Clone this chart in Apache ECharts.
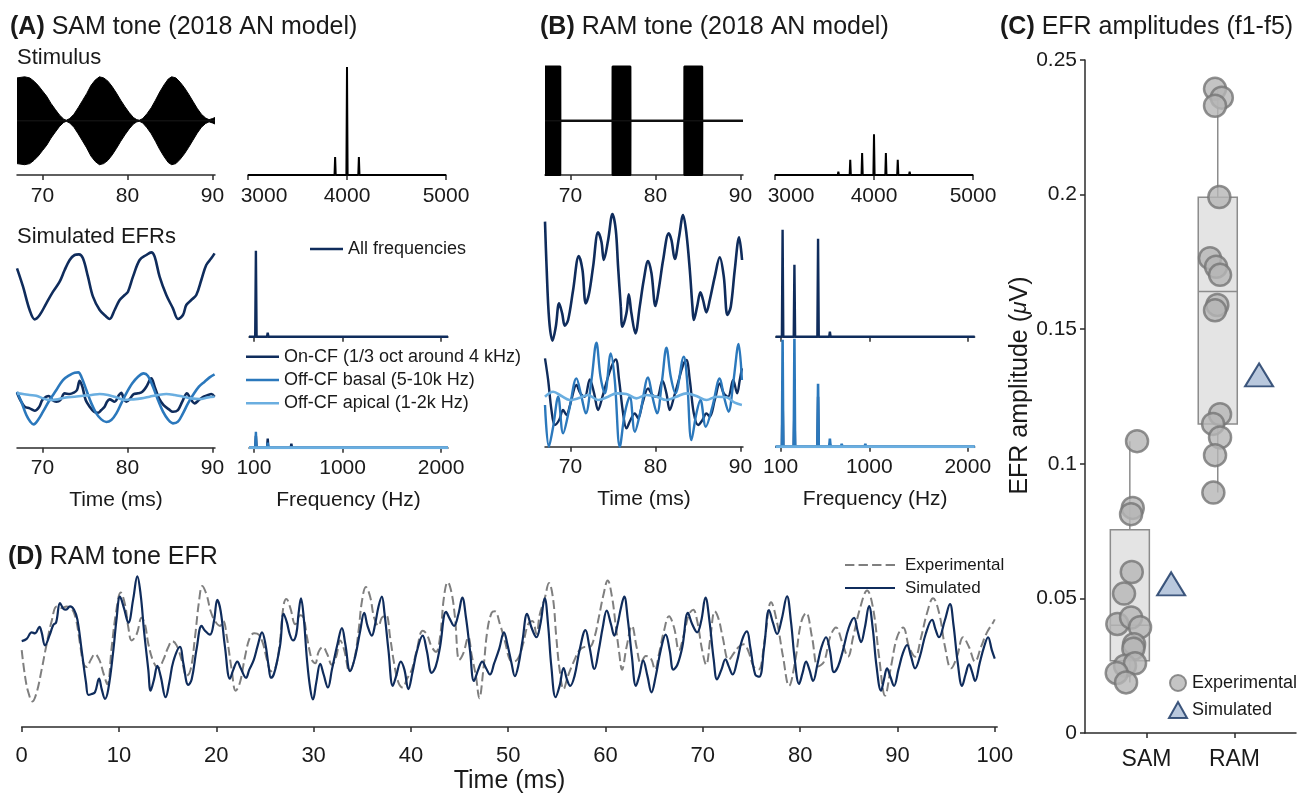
<!DOCTYPE html>
<html><head><meta charset="utf-8">
<script src="https://cdn.jsdelivr.net/npm/echarts@6/dist/echarts.min.js"></script>
<style>html,body{margin:0;padding:0;background:#fff}#c{width:1299px;height:795px}</style>
</head><body><div id="c"></div>
<script>
// ---------------- DATA ----------------
// Stimulus envelopes [time ms, envelope]
const samStim = [[67.0,0.79],[67.9,0.81],[68.5,0.79],[69.0,0.73],[69.5,0.65],[70.0,0.55],[70.5,0.45],[71.0,0.32],[71.5,0.21],[72.0,0.105],[72.5,0.03],[72.8,0.01],[73.2,0.04],[73.7,0.12],[74.2,0.24],[74.7,0.37],[75.2,0.50],[75.7,0.65],[76.2,0.75],[76.7,0.81],[77.2,0.79],[77.7,0.73],[78.2,0.63],[78.7,0.51],[79.2,0.38],[79.7,0.26],[80.2,0.15],[80.7,0.06],[81.1,0.02],[81.4,0.01],[81.8,0.04],[82.3,0.13],[82.8,0.24],[83.3,0.38],[83.8,0.53],[84.3,0.66],[84.8,0.77],[85.2,0.81],[85.7,0.79],[86.2,0.71],[86.7,0.61],[87.2,0.49],[87.7,0.36],[88.2,0.23],[88.7,0.12],[89.2,0.05],[89.6,0.02],[90.0,0.04],[90.3,0.06]];
const ramStim = [[67.0,1],[68.8,1],[68.81,0],[74.94,0],[74.95,1],[77.05,1],[77.06,0],[83.39,0],[83.4,1],[85.5,1],[85.51,0],[90.3,0]];
// Stimulus spectra
const samSpecF = [3880, 4000, 4120];
const samSpecA = [0.167, 1.0, 0.167];
const ramSpecF = [3160, 3280, 3400, 3640, 3760, 3880, 4000, 4120, 4240, 4360, 4600, 4720, 4840];
const ramSpecA = [0.008, 0.008, 0.01, 0.031, 0.142, 0.204, 0.377, 0.204, 0.142, 0.031, 0.01, 0.008, 0.008];
// EFR spectra (harmonics of 120 Hz)
const efrSpecF = [120, 240, 360, 480, 600, 720, 840, 960, 1080];
const aAllSpec = [0.86, 0.04, 0, 0.012, 0, 0, 0, 0, 0];
const aOnSpec = [0.12, 0.09, 0, 0.04, 0, 0, 0, 0, 0];
const aBasalSpec = [0.16, 0.05, 0, 0.01, 0, 0, 0, 0, 0];
const aApicalSpec = [0.02, 0.01, 0, 0, 0, 0, 0, 0, 0];
const bAllSpec = [1.07, 0.72, 0, 0.98, 0.05, 0.01, 0, 0.01, 0];
const bOnSpec = [0.55, 0.40, 0, 0.50, 0.03, 0, 0, 0, 0];
const bBasalSpec = [1.07, 1.08, 0, 0.63, 0.08, 0.03, 0, 0.03, 0.01];
const bApicalSpec = [0.02, 0.01, 0, 0, 0, 0, 0, 0, 0];
// EFR waveforms [time ms, amplitude a.u.]
const aAll = [[67.00,0.55],[67.71,0.00],[68.49,-0.70],[69.08,-0.98],[69.67,-0.85],[70.45,-0.50],[71.24,-0.15],[72.02,0.15],[72.61,0.50],[73.20,0.80],[73.78,0.95],[74.29,0.97],[74.76,0.85],[75.35,0.30],[75.94,-0.30],[76.73,-0.70],[77.51,-0.90],[77.90,-0.97],[78.49,-0.70],[79.08,-0.40],[79.67,-0.25],[80.06,-0.15],[80.65,0.30],[81.43,0.80],[82.22,0.95],[82.80,1.03],[83.20,0.90],[83.78,0.30],[84.57,-0.25],[85.35,-0.65],[85.94,-0.97],[86.53,-0.85],[86.92,-0.55],[87.51,-0.40],[88.10,-0.25],[88.69,0.20],[89.27,0.65],[89.86,0.85],[90.25,1.00]];
const aOn = [[67.00,0.12],[67.39,-0.10],[67.90,-0.30],[68.49,-0.35],[69.08,-0.42],[69.59,-0.32],[69.98,-0.10],[70.45,0.00],[70.76,0.02],[71.16,-0.10],[71.63,-0.15],[72.10,-0.10],[72.61,0.10],[73.20,0.08],[73.67,0.12],[74.06,0.20],[74.37,0.48],[74.69,0.30],[75.08,-0.10],[75.55,-0.30],[76.06,-0.45],[76.53,-0.48],[76.92,-0.40],[77.31,-0.30],[77.59,-0.15],[77.90,-0.08],[78.49,-0.15],[79.00,0.05],[79.27,0.12],[79.55,-0.05],[79.86,-0.15],[80.33,-0.05],[80.73,0.08],[81.24,0.10],[81.75,0.15],[82.22,0.30],[82.80,0.55],[83.20,0.30],[83.71,-0.05],[84.25,-0.25],[84.88,-0.38],[85.35,-0.45],[85.94,-0.40],[86.45,-0.15],[87.00,0.10],[87.39,-0.05],[87.90,-0.20],[88.41,-0.10],[88.96,0.00],[89.47,0.05],[89.86,0.08],[90.25,0.00]];
const aBasal = [[67.00,0.15],[67.51,-0.15],[68.10,-0.55],[68.57,-0.75],[68.96,-0.83],[69.47,-0.70],[70.06,-0.45],[70.84,-0.10],[71.63,0.20],[72.41,0.50],[73.20,0.65],[73.78,0.72],[74.22,0.73],[74.57,0.60],[75.16,0.20],[75.75,-0.20],[76.33,-0.50],[76.92,-0.68],[77.51,-0.76],[78.10,-0.70],[78.69,-0.50],[79.27,-0.20],[79.86,0.10],[80.57,0.40],[81.24,0.60],[81.90,0.70],[82.41,0.62],[83.00,0.30],[83.59,-0.10],[84.18,-0.45],[84.76,-0.68],[85.35,-0.80],[85.94,-0.75],[86.53,-0.50],[87.12,-0.20],[87.71,0.05],[88.41,0.30],[89.08,0.45],[89.67,0.58],[90.25,0.67]];
const aApical = [[67.00,0.10],[67.71,0.08],[68.49,0.05],[69.27,0.03],[70.06,-0.05],[70.84,-0.10],[71.82,-0.08],[72.80,-0.02],[73.78,0.00],[74.76,0.03],[75.75,0.05],[76.73,0.08],[77.71,0.05],[78.69,-0.02],[79.67,-0.10],[80.65,-0.08],[81.63,-0.05],[82.61,0.00],[83.59,0.05],[84.57,0.08],[85.55,0.05],[86.53,0.00],[87.51,-0.05],[88.49,-0.07],[89.47,-0.02],[90.25,0.00]];
const bAll = [[67.00,1.75],[67.17,0.50],[67.49,-1.20],[67.88,-1.82],[68.27,-1.40],[68.66,-0.70],[69.02,-1.00],[69.33,-1.37],[69.72,-1.20],[70.31,-0.30],[70.98,0.72],[71.41,0.30],[71.80,-0.70],[72.19,-0.40],[72.66,0.40],[73.25,1.43],[73.64,1.15],[73.92,0.60],[74.43,1.20],[74.94,1.98],[75.33,1.50],[75.60,0.40],[75.92,-0.80],[76.11,-1.40],[76.58,-1.00],[76.86,-0.43],[77.17,-1.00],[77.64,-1.60],[78.15,-0.80],[78.62,0.00],[79.13,0.57],[79.53,0.20],[80.00,-0.78],[80.43,-0.20],[80.90,0.60],[81.56,1.40],[81.88,1.20],[82.27,0.63],[82.78,1.30],[83.25,1.95],[83.64,1.40],[84.04,0.30],[84.35,-0.80],[84.51,-1.20],[84.90,-0.80],[85.29,-0.37],[85.60,-0.60],[85.99,-0.97],[86.39,-0.60],[86.98,0.10],[87.56,0.68],[88.04,0.10],[88.47,-1.05],[88.86,-0.80],[89.33,0.30],[89.84,1.28],[90.19,0.60]];
const bOn = [[67.00,1.15],[67.37,0.50],[67.76,-0.40],[68.15,-0.85],[68.66,-0.70],[69.13,-0.40],[69.52,-0.55],[70.00,-0.20],[70.70,0.35],[71.17,0.10],[71.68,0.00],[72.27,0.52],[72.78,0.10],[73.25,-0.40],[73.76,0.00],[74.31,0.50],[74.82,0.90],[75.33,1.12],[75.72,0.50],[76.19,-0.50],[76.58,-0.95],[77.06,-0.70],[77.57,-0.50],[77.96,-0.65],[78.47,-0.20],[79.13,0.25],[79.64,0.05],[80.19,0.00],[80.82,0.48],[81.29,0.10],[81.68,-0.40],[82.19,0.00],[82.74,0.50],[83.25,0.95],[83.64,1.10],[84.04,0.50],[84.51,-0.50],[85.02,-0.85],[85.53,-0.70],[85.99,-0.50],[86.39,-0.60],[86.98,-0.10],[87.56,0.40],[88.04,0.10],[88.55,0.00],[89.14,0.50],[89.61,0.10],[89.92,0.50],[90.17,0.85]];
const bBasal = [[67.00,-0.25],[67.45,-1.50],[67.96,-0.90],[68.55,0.00],[69.13,-1.10],[69.84,-0.40],[70.70,0.55],[71.29,0.00],[71.80,-0.50],[72.47,0.50],[73.05,1.62],[73.53,0.60],[74.04,0.10],[74.74,1.30],[75.21,0.50],[75.80,-1.50],[76.39,-0.50],[76.98,0.00],[77.57,-1.05],[78.27,-0.40],[79.13,0.58],[79.64,0.00],[80.19,-0.50],[80.78,0.50],[81.29,1.47],[81.80,0.60],[82.35,0.10],[83.33,1.20],[83.72,0.50],[84.23,-1.30],[84.82,-0.50],[85.29,-0.10],[85.92,-0.90],[86.70,-0.30],[87.56,0.55],[88.06,0.00],[88.60,-0.45],[89.19,0.50],[89.78,1.58],[90.17,0.50]];
const bApical = [[67.00,0.00],[67.96,0.15],[68.94,0.02],[69.92,-0.10],[70.90,-0.05],[72.07,0.05],[73.25,-0.10],[74.43,0.00],[75.41,0.10],[76.58,0.08],[77.76,-0.05],[78.94,0.05],[80.11,0.00],[81.29,-0.10],[82.47,0.00],[83.64,0.10],[84.82,0.02],[86.00,-0.10],[87.17,0.00],[88.35,-0.02],[89.33,-0.18],[90.17,-0.25]];
// Panel C: EFR amplitudes (uV) and horizontal jitter (category units)
const cCategories = ['SAM', 'RAM'];
const samExp = [0.1084, 0.0836, 0.0813, 0.0598, 0.0518, 0.0405, 0.0429, 0.0393, 0.0330, 0.0313, 0.0250, 0.0259, 0.0223, 0.0188];
const samJitter = [-0.108, -0.157, -0.176, -0.168, -0.256, -0.332, -0.176, -0.074, -0.142, -0.150, -0.245, -0.131, -0.339, -0.233];
const ramExp = [0.2393, 0.2360, 0.2330, 0.1991, 0.1764, 0.1732, 0.1702, 0.1590, 0.1570, 0.1184, 0.1148, 0.1098, 0.1032, 0.0893];
const ramJitter = [-0.221, -0.144, -0.221, -0.172, -0.278, -0.209, -0.164, -0.195, -0.221, -0.164, -0.243, -0.164, -0.221, -0.240];
const simAmp = [0.0554, 0.1330];
// box stats: [q1, median, q3, whiskerLow, whiskerHigh]
const samBox = [0.0268, 0.0400, 0.0755, 0.0188, 0.1084];
const ramBox = [0.1148, 0.1640, 0.1990, 0.0893, 0.2393];
// Panel D: RAM tone EFR [time ms, uV]
const dSim = [[0.00,0.028],[0.51,0.035],[1.03,0.055],[1.37,0.052],[1.82,0.072],[2.05,0.055],[2.40,0.015],[2.91,0.050],[3.25,0.078],[3.53,0.085],[3.94,0.145],[4.28,0.128],[4.55,0.125],[4.97,0.135],[5.38,0.125],[5.72,0.095],[6.16,0.000],[6.61,-0.100],[6.85,-0.138],[7.19,-0.135],[7.53,-0.130],[7.95,-0.088],[8.22,-0.120],[8.56,-0.150],[8.90,-0.120],[9.42,0.000],[9.76,0.100],[10.10,0.165],[10.51,0.130],[10.96,0.085],[11.47,0.160],[11.88,0.228],[12.23,0.170],[12.57,0.060],[13.01,-0.060],[13.25,-0.125],[13.60,-0.090],[13.94,-0.048],[14.28,-0.080],[14.79,-0.145],[15.17,-0.100],[15.58,-0.035],[16.27,0.010],[16.61,-0.040],[17.12,-0.107],[17.47,-0.090],[17.98,0.005],[18.49,0.075],[18.84,0.060],[19.35,0.048],[19.76,0.090],[20.10,0.155],[20.45,0.120],[20.89,0.010],[21.40,-0.088],[21.75,-0.060],[22.16,-0.035],[22.50,-0.055],[23.05,-0.085],[23.39,-0.060],[23.85,-0.030],[24.26,0.015],[24.70,0.055],[25.04,0.020],[25.38,-0.050],[25.62,-0.085],[25.90,-0.075],[26.24,-0.035],[26.58,0.020],[26.92,0.112],[27.26,0.085],[27.54,0.050],[27.88,0.030],[28.22,0.050],[28.46,0.115],[28.70,0.160],[28.97,0.105],[29.32,-0.030],[29.66,-0.120],[29.93,-0.152],[30.27,-0.100],[30.68,-0.042],[31.03,-0.075],[31.47,-0.115],[31.88,-0.060],[32.46,0.020],[32.91,0.068],[33.25,0.020],[33.76,-0.065],[34.27,-0.020],[34.79,0.060],[35.20,0.115],[35.54,0.075],[35.98,0.045],[36.32,0.080],[36.67,0.135],[37.01,0.165],[37.28,0.115],[37.69,0.000],[38.14,-0.110],[38.48,-0.080],[38.96,-0.035],[39.33,-0.060],[39.74,-0.120],[40.15,-0.070],[40.60,-0.005],[41.21,0.045],[41.62,0.000],[42.14,-0.070],[42.55,-0.050],[42.99,0.010],[43.61,0.118],[44.02,0.095],[44.43,0.075],[44.87,0.110],[45.28,0.162],[45.66,0.100],[46.07,0.000],[46.48,-0.095],[46.92,-0.060],[47.33,-0.035],[47.71,-0.055],[48.12,-0.075],[48.56,-0.040],[49.08,0.005],[49.56,0.055],[49.90,0.020],[50.34,-0.040],[50.68,-0.080],[51.02,-0.050],[51.47,0.030],[51.94,0.112],[52.39,0.070],[52.90,0.040],[53.30,0.080],[53.75,0.160],[54.09,0.080],[54.43,-0.050],[54.87,-0.145],[55.28,-0.110],[55.69,-0.055],[56.03,-0.090],[56.37,-0.110],[56.81,-0.080],[57.33,0.000],[57.94,0.062],[58.35,0.010],[58.86,-0.058],[59.30,0.000],[59.71,0.070],[60.12,0.122],[60.56,0.080],[60.90,0.045],[61.24,0.080],[61.58,0.130],[61.92,0.165],[62.27,0.100],[62.71,-0.020],[63.12,-0.110],[63.46,-0.080],[63.87,-0.032],[64.31,-0.080],[64.72,-0.130],[65.16,-0.080],[65.67,0.000],[66.18,0.048],[66.59,0.000],[66.97,-0.060],[67.38,-0.045],[67.89,0.010],[68.47,0.115],[68.91,0.080],[69.42,0.055],[69.83,0.090],[70.27,0.162],[70.68,0.090],[71.12,-0.030],[71.46,-0.090],[71.91,-0.060],[72.32,-0.028],[72.66,-0.050],[73.07,-0.075],[73.51,-0.035],[74.02,0.030],[74.53,0.058],[74.87,0.010],[75.38,-0.075],[75.80,-0.082],[76.30,0.010],[76.80,0.124],[77.20,0.085],[77.63,0.050],[78.10,0.095],[78.65,0.166],[79.05,0.090],[79.45,-0.030],[79.89,-0.104],[80.25,-0.070],[80.61,-0.035],[80.95,-0.060],[81.33,-0.095],[81.80,-0.040],[82.20,0.010],[82.66,0.040],[83.05,0.000],[83.48,-0.068],[83.90,-0.050],[84.40,0.000],[85.00,0.070],[85.54,0.100],[85.90,0.060],[86.26,0.025],[86.65,0.070],[87.08,0.136],[87.45,0.070],[87.85,-0.050],[88.31,-0.125],[88.62,-0.090],[88.93,-0.056],[89.25,-0.080],[89.65,-0.110],[90.10,-0.060],[90.55,-0.010],[90.99,0.016],[91.40,-0.020],[91.81,-0.056],[92.30,-0.020],[92.90,0.050],[93.56,0.094],[93.90,0.065],[94.27,0.040],[94.85,0.090],[95.40,0.142],[95.75,0.080],[96.20,-0.040],[96.64,-0.110],[97.00,-0.075],[97.36,-0.044],[97.65,-0.065],[97.98,-0.095],[98.45,-0.040],[98.90,0.010],[99.31,0.040],[99.70,0.000],[100.0,-0.026]];
const dExp = [[0.00,0.000],[0.34,-0.080],[0.68,-0.130],[1.10,-0.158],[1.54,-0.130],[2.05,-0.060],[2.57,0.020],[3.08,0.090],[3.60,0.135],[4.11,0.130],[4.62,0.135],[5.14,0.128],[5.58,0.095],[5.99,0.020],[6.34,-0.040],[6.68,-0.052],[7.09,-0.030],[7.53,-0.012],[7.98,-0.030],[8.39,-0.070],[8.80,-0.105],[9.25,0.010],[9.69,0.115],[10.17,0.178],[10.62,0.140],[10.96,0.070],[11.30,0.030],[11.82,0.050],[12.33,0.100],[12.67,0.080],[13.01,0.020],[13.53,-0.035],[14.04,-0.055],[14.55,-0.030],[15.07,0.010],[15.48,0.028],[15.92,0.015],[16.44,-0.030],[16.95,-0.080],[17.36,-0.060],[17.81,0.040],[18.22,0.150],[18.56,0.198],[19.01,0.170],[19.42,0.120],[19.86,0.090],[20.38,0.075],[20.72,0.090],[21.06,0.045],[21.58,-0.060],[21.99,-0.125],[22.43,-0.100],[22.95,-0.020],[23.46,0.040],[23.91,0.052],[24.36,0.048],[24.80,0.020],[25.21,-0.030],[25.62,-0.065],[26.07,-0.055],[26.51,0.020],[26.92,0.140],[27.20,0.158],[27.61,0.130],[28.12,0.080],[28.63,0.108],[28.97,0.100],[29.32,0.040],[29.83,-0.030],[30.17,-0.040],[30.51,-0.005],[30.96,0.010],[31.37,-0.010],[31.88,-0.045],[32.32,-0.020],[32.74,0.030],[33.15,0.000],[33.69,-0.065],[34.17,-0.030],[34.62,0.060],[34.96,0.150],[35.37,0.195],[35.81,0.165],[36.22,0.100],[36.67,0.075],[37.01,0.100],[37.45,0.108],[37.86,0.040],[38.27,-0.040],[38.72,-0.100],[39.16,-0.115],[39.57,-0.090],[40.09,-0.060],[40.60,0.000],[41.21,0.060],[41.62,0.050],[42.14,0.010],[42.58,-0.005],[42.99,0.040],[43.40,0.165],[43.78,0.210],[44.19,0.175],[44.53,0.100],[44.97,-0.030],[45.38,-0.010],[45.90,0.040],[46.24,-0.015],[46.68,-0.080],[47.03,-0.148],[47.44,-0.060],[47.85,0.060],[48.29,0.115],[48.63,0.120],[49.15,0.080],[49.66,0.028],[50.17,-0.030],[50.58,-0.035],[51.02,-0.025],[51.53,0.020],[52.04,0.080],[52.49,0.090],[52.90,0.050],[53.24,0.110],[53.75,0.160],[54.19,0.207],[54.60,0.160],[54.94,0.040],[55.28,-0.060],[55.69,-0.120],[56.13,-0.080],[56.81,-0.030],[57.33,0.000],[57.84,0.010],[58.35,0.010],[58.86,0.040],[59.30,0.100],[59.78,0.170],[60.22,0.215],[60.66,0.165],[61.01,0.085],[61.41,-0.010],[61.69,-0.060],[62.16,0.010],[62.71,0.075],[63.19,0.010],[63.63,-0.040],[64.14,-0.018],[64.65,-0.025],[65.09,-0.060],[65.50,-0.010],[66.01,0.060],[66.52,0.105],[67.04,0.070],[67.55,0.000],[68.06,0.050],[68.57,0.110],[69.01,0.125],[69.42,0.090],[69.93,0.000],[70.34,-0.045],[70.78,0.040],[71.23,0.120],[71.63,0.095],[72.04,0.040],[72.66,-0.030],[73.17,-0.010],[73.68,0.010],[74.19,0.018],[74.70,-0.005],[75.21,-0.050],[75.72,-0.060],[76.39,0.040],[77.01,0.148],[77.63,0.085],[78.24,-0.020],[78.86,-0.110],[79.48,-0.035],[80.09,0.085],[80.61,0.115],[81.22,0.040],[81.84,-0.050],[82.46,-0.035],[83.07,0.040],[83.69,0.070],[84.31,0.025],[84.92,-0.020],[85.44,0.040],[86.16,0.130],[86.88,0.184],[87.49,0.130],[88.11,-0.020],[88.73,-0.140],[89.34,-0.050],[89.96,0.040],[90.58,0.070],[91.19,0.010],[91.81,-0.020],[92.43,0.040],[93.04,0.115],[93.66,0.160],[94.28,0.115],[94.89,0.010],[95.51,-0.056],[96.12,-0.020],[96.74,0.040],[97.35,0.010],[97.97,-0.035],[98.59,0.010],[99.20,0.055],[99.82,0.085],[100.0,0.095]];
// tick values
const timeTicks = [70, 80, 90];
const stimFreqTicks = [3000, 4000, 5000];
const efrFreqTicks = [100, 1000, 2000];
const dTimeTicks = [0, 10, 20, 30, 40, 50, 60, 70, 80, 90, 100];

// ---------------- STYLE / LAYOUT ----------------
const FONT = '"Liberation Sans", Arial, Helvetica, sans-serif';
const TXT = '#1a1a1a', AX = '#2b2b2b';
const NAVY = '#0f2c5c', MID = '#2b78bc', LIGHT = '#6aaee0', GREY = '#7f7f7f';

const grids = [], xAxes = [], yAxes = [], series = [];
function addPanel(l, t, w, h, xa, ya) {
  grids.push({left: l, top: t, width: w, height: h});
  const g = grids.length - 1;
  xAxes.push(Object.assign({gridIndex: g, type: 'value'}, xa));
  yAxes.push(Object.assign({gridIndex: g, type: 'value'}, ya));
  return g;
}
function hidden(min, max) { return {min, max, show: false}; }
function xVis(min, max, ticks, o) {
  o = o || {};
  const lab = {show: o.labels !== false, customValues: ticks, margin: o.margin || 10,
    fontSize: o.fs || 21, color: TXT, fontFamily: FONT, formatter: o.fmt || (v => String(v))};
  if (o.rich) lab.rich = o.rich;
  return {min, max, show: true,
    axisLine: {show: true, onZero: false, lineStyle: {color: AX, width: 1.5}},
    axisTick: {show: true, inside: false, length: 5, customValues: ticks, lineStyle: {color: AX, width: 1.5}},
    axisLabel: lab, splitLine: {show: false},
    name: o.name || '', nameLocation: 'middle', nameGap: o.nameGap || 42,
    nameTextStyle: {fontSize: o.nfs || 21, color: TXT, fontFamily: FONT}};
}
function spikes(freqs, amps, lo, hi, hw) {
  const d = [[lo, 0]];
  freqs.forEach((f, i) => { if (amps[i] > 0) d.push([f - hw, 0], [f, amps[i]], [f + hw, 0]); });
  d.push([hi, 0]);
  return d;
}
function line(g, data, color, width, name, extra) {
  series.push(Object.assign({type: 'line', name: name || ('s' + series.length), xAxisIndex: g, yAxisIndex: g,
    data, showSymbol: false, symbol: 'none', smooth: 0.35, lineStyle: {color, width},
    itemStyle: {color}, silent: true}, extra || {}));
}
function band(g, env, lineW) {
  line(g, env.map(p => [p[0], p[1]]), '#000', lineW, null, {smooth: false, areaStyle: {color: '#000', opacity: 1}});
  line(g, env.map(p => [p[0], -p[1]]), '#000', lineW, null, {smooth: false, areaStyle: {color: '#000', opacity: 1}});
  line(g, env.map(p => [p[0], 0]), '#111', 1.5, null, {smooth: false});
}
const shift3000 = {fmt: v => (v === 3000 ? '{s|3000}' : String(v)),
  rich: {s: {padding: [0, 0, 0, 32], fontSize: 21, color: TXT, fontFamily: FONT}}};

// Panel A
const gAstim = addPanel(17, 60, 198, 115, xVis(67, 90.3, timeTicks, {margin: 11}), hidden(-1, 1.12));
const gAstimSpec = addPanel(248, 67, 198, 108, xVis(3000, 5000, stimFreqTicks, Object.assign({margin: 11}, shift3000)), hidden(0, 1));
const gAtop = addPanel(17, 240, 198, 100, hidden(67, 90.3), hidden(-1.6, 1.4));
const gAtopSpec = addPanel(249, 226.7, 199, 110, xVis(50, 2070, efrFreqTicks, {labels: false}), hidden(0, 1.1));
const gAbot = addPanel(17, 347.7, 198, 100, xVis(67, 90.3, timeTicks, {name: 'Time (ms)'}), hidden(-1.53, 1.47));
const gAbotSpec = addPanel(249, 337.7, 199, 110, xVis(50, 2070, efrFreqTicks, {name: 'Frequency (Hz)'}), hidden(0, 1.1));
// Panel B
const gBstim = addPanel(545, 60, 198, 115, xVis(67, 90.3, timeTicks, {margin: 11}), hidden(-1, 1.12));
const gBstimSpec = addPanel(775, 67, 198, 108, xVis(3000, 5000, stimFreqTicks, Object.assign({margin: 11}, shift3000)), hidden(0, 1));
const gBtop = addPanel(545, 205, 198, 140, hidden(67, 90.3), hidden(-1.95, 2.25));
const gBtopSpec = addPanel(775.7, 226.7, 199, 110, xVis(50, 2070, efrFreqTicks, {labels: false}), hidden(0, 1.1));
const gBbot = addPanel(545, 340, 198, 106.7, xVis(67, 90.3, timeTicks, {name: 'Time (ms)'}), hidden(-1.5, 1.7));
const gBbotSpec = addPanel(775.7, 336.7, 199, 110, xVis(50, 2070, efrFreqTicks, {name: 'Frequency (Hz)'}), hidden(0, 1.1));
// Panel C
const gC = addPanel(1085, 60, 211, 673,
  xVis(0.3, 2.7, [1, 2], {margin: 15, fs: 23, fmt: v => cCategories[Math.round(v) - 1]}),
  {min: 0, max: 0.25, interval: 0.05,
   axisLine: {show: true, lineStyle: {color: AX, width: 1.5}},
   axisTick: {show: true, inside: false, length: 5, lineStyle: {color: AX, width: 1.5}},
   axisLabel: {fontSize: 21, margin: 8, color: TXT, fontFamily: FONT},
   splitLine: {show: false},
   name: 'EFR amplitude ({i|\u03bc}V)', nameLocation: 'middle', nameRotate: 90, nameGap: 43,
   nameTextStyle: {fontSize: 25, color: TXT, fontFamily: FONT, padding: [0, 0, 0, 22],
     rich: {i: {fontStyle: 'italic', fontSize: 23, color: TXT, fontFamily: FONT}}}});
// Panel D
const gD = addPanel(21.7, 540, 975.5, 192.3,
  xVis(0, 100.25, dTimeTicks, {margin: 18, fs: 22, name: 'Time (ms)', nfs: 25, nameGap: 42}),
  hidden(-0.237, 0.34));

// ---- series ----
band(gAstim, samStim, 1);
band(gBstim, ramStim, 2);
line(gAstimSpec, spikes(samSpecF, samSpecA, 3000, 5000, 6), '#000', 2, null, {smooth: false});
line(gBstimSpec, spikes(ramSpecF, ramSpecA, 3000, 5000, 6), '#000', 2, null, {smooth: false});

line(gAtop, aAll, NAVY, 2.6, 'All frequencies');
line(gAtopSpec, spikes(efrSpecF, aAllSpec, 50, 2070, 7), NAVY, 2.4, 'A-all-spec', {smooth: false});
line(gAbot, aOn, NAVY, 2.6, 'On-CF (1/3 oct around 4 kHz)');
line(gAbot, aBasal, MID, 2.6, 'Off-CF basal (5-10k Hz)');
line(gAbot, aApical, LIGHT, 2.6, 'Off-CF apical (1-2k Hz)');
line(gAbotSpec, spikes(efrSpecF, aOnSpec, 50, 2070, 7), NAVY, 2.4, 'A-on-spec', {smooth: false});
line(gAbotSpec, spikes(efrSpecF, aBasalSpec, 50, 2070, 7), MID, 2.4, 'A-basal-spec', {smooth: false});
line(gAbotSpec, spikes(efrSpecF, aApicalSpec, 50, 2070, 7), LIGHT, 3, 'A-apical-spec', {smooth: false});

line(gBtop, bAll, NAVY, 2.6, 'B-all');
line(gBtopSpec, spikes(efrSpecF, bAllSpec, 50, 2070, 7), NAVY, 2.4, 'B-all-spec', {smooth: false});
line(gBbot, bOn, NAVY, 2.4, 'B-on');
line(gBbot, bBasal, MID, 2.4, 'B-basal');
line(gBbot, bApical, LIGHT, 2.6, 'B-apical');
line(gBbotSpec, spikes(efrSpecF, bOnSpec, 50, 2070, 7), NAVY, 2.4, 'B-on-spec', {smooth: false});
line(gBbotSpec, spikes(efrSpecF, bBasalSpec, 50, 2070, 7), MID, 2.6, 'B-basal-spec', {smooth: false});
line(gBbotSpec, spikes(efrSpecF, bApicalSpec, 50, 2070, 7), LIGHT, 3, 'B-apical-spec', {smooth: false});

// Panel C
const boxOffset = -0.19, boxHalf = 0.222, triOffset = 0.28;
series.push({type: 'custom', xAxisIndex: gC, yAxisIndex: gC, silent: true, z: 2,
  data: [[1 + boxOffset].concat(samBox), [2 + boxOffset].concat(ramBox)],
  encode: {x: 0, y: [1, 2, 3, 4, 5]},
  renderItem: function (params, api) {
    const x = api.value(0), q1 = api.value(1), md = api.value(2), q3 = api.value(3), lo = api.value(4), hi = api.value(5);
    const tl = api.coord([x - boxHalf, q3]), br = api.coord([x + boxHalf, q1]);
    const m1 = api.coord([x - boxHalf, md]), m2 = api.coord([x + boxHalf, md]);
    const ph = api.coord([x, hi]), pl = api.coord([x, lo]), p3 = api.coord([x, q3]), p1 = api.coord([x, q1]);
    const st = {stroke: '#8c8c8c', lineWidth: 1.5};
    return {type: 'group', children: [
      {type: 'line', shape: {x1: ph[0], y1: ph[1], x2: p3[0], y2: p3[1]}, style: st},
      {type: 'line', shape: {x1: pl[0], y1: pl[1], x2: p1[0], y2: p1[1]}, style: st},
      {type: 'rect', shape: {x: tl[0], y: tl[1], width: br[0] - tl[0], height: br[1] - tl[1]},
        style: {fill: '#e4e4e4', stroke: '#8c8c8c', lineWidth: 1.5}},
      {type: 'line', shape: {x1: m1[0], y1: m1[1], x2: m2[0], y2: m2[1]}, style: st}
    ]};
  }});
series.push({type: 'scatter', name: 'C-Experimental', xAxisIndex: gC, yAxisIndex: gC, z: 3, silent: true,
  symbol: 'circle', symbolSize: 22,
  itemStyle: {color: '#b5b5b5', borderColor: '#767676', borderWidth: 2.5},
  data: samExp.map((v, i) => [1 + samJitter[i], v]).concat(ramExp.map((v, i) => [2 + ramJitter[i], v]))});
series.push({type: 'scatter', name: 'C-Simulated', xAxisIndex: gC, yAxisIndex: gC, z: 4, silent: true,
  symbol: 'triangle', symbolSize: [28, 23],
  itemStyle: {color: '#a7bad4', borderColor: '#13315f', borderWidth: 2},
  data: simAmp.map((v, i) => [i + 1 + triOffset, v])});

// Panel D
line(gD, dExp, GREY, 2, 'Experimental', {lineStyle: {color: GREY, width: 2, type: [9, 4]}, smooth: 0.4});
line(gD, dSim, NAVY, 2.2, 'Simulated', {smooth: 0.4});

const solidIcon = 'path://M0,0h33v2.6h-33z';
const legText = {fontSize: 18, color: TXT, fontFamily: FONT, lineHeight: 20};
const option = {
  animation: false,
  backgroundColor: '#fff',
  textStyle: {fontFamily: FONT},
  grid: grids, xAxis: xAxes, yAxis: yAxes, series,
  legend: [
    {left: 310, top: 239, padding: 0, orient: 'vertical', selectedMode: false,
     data: [{name: 'All frequencies', icon: solidIcon}],
     itemWidth: 33, itemHeight: 2.6, textStyle: legText},
    {left: 246, top: 346.7, padding: 0, orient: 'vertical', itemGap: 3.3, selectedMode: false,
     data: [{name: 'On-CF (1/3 oct around 4 kHz)', icon: solidIcon}, {name: 'Off-CF basal (5-10k Hz)', icon: solidIcon},
            {name: 'Off-CF apical (1-2k Hz)', icon: solidIcon}],
     itemWidth: 33, itemHeight: 2.6, textStyle: legText},
    {left: 845, top: 555, padding: 0, orient: 'vertical', itemGap: 3, selectedMode: false,
     data: [{name: 'Experimental', icon: 'path://M0,0h9v2h-9z m13,0h9v2h-9z m13,0h9v2h-9z m13,0h9v2h-9z'},
            {name: 'Simulated', icon: 'path://M0,0h50v2.2h-50z'}],
     itemWidth: 50, itemHeight: 2.2,
     textStyle: {fontSize: 17, color: TXT, fontFamily: FONT, lineHeight: 20, padding: [0, 0, 0, 5]}},
    {left: 1168, top: 673, padding: 0, orient: 'vertical', itemGap: 7, selectedMode: false,
     data: ['C-Experimental', 'C-Simulated'], itemWidth: 18, itemHeight: 16,
     formatter: n => n.replace('C-', ''),
     textStyle: {fontSize: 18, color: TXT, fontFamily: FONT, lineHeight: 20}}
  ],
  graphic: [
    {type: 'text', x: 10, y: 27, style: {text: '{b|(A)} SAM tone (2018 AN model)', fontSize: 25, fontFamily: FONT, fill: TXT, verticalAlign: 'middle',
      rich: {b: {fontWeight: 'bold', fontSize: 25, fontFamily: FONT, fill: TXT}}}},
    {type: 'text', x: 17, y: 58, style: {text: 'Stimulus', fontSize: 22, fontFamily: FONT, fill: TXT, verticalAlign: 'middle'}},
    {type: 'text', x: 17, y: 237, style: {text: 'Simulated EFRs', fontSize: 22, fontFamily: FONT, fill: TXT, verticalAlign: 'middle'}},
    {type: 'text', x: 540, y: 27, style: {text: '{b|(B)} RAM tone (2018 AN model)', fontSize: 25, fontFamily: FONT, fill: TXT, verticalAlign: 'middle',
      rich: {b: {fontWeight: 'bold', fontSize: 25, fontFamily: FONT, fill: TXT}}}},
    {type: 'text', x: 1000, y: 27, style: {text: '{b|(C)} EFR amplitudes (f1-f5)', fontSize: 25, fontFamily: FONT, fill: TXT, verticalAlign: 'middle',
      rich: {b: {fontWeight: 'bold', fontSize: 25, fontFamily: FONT, fill: TXT}}}},
    {type: 'text', x: 8, y: 557, style: {text: '{b|(D)} RAM tone EFR', fontSize: 25, fontFamily: FONT, fill: TXT, verticalAlign: 'middle',
      rich: {b: {fontWeight: 'bold', fontSize: 25, fontFamily: FONT, fill: TXT}}}}
  ]
};
const chart = echarts.init(document.getElementById('c'), null, {renderer: 'canvas'});
chart.setOption(option);
</script></body></html>
